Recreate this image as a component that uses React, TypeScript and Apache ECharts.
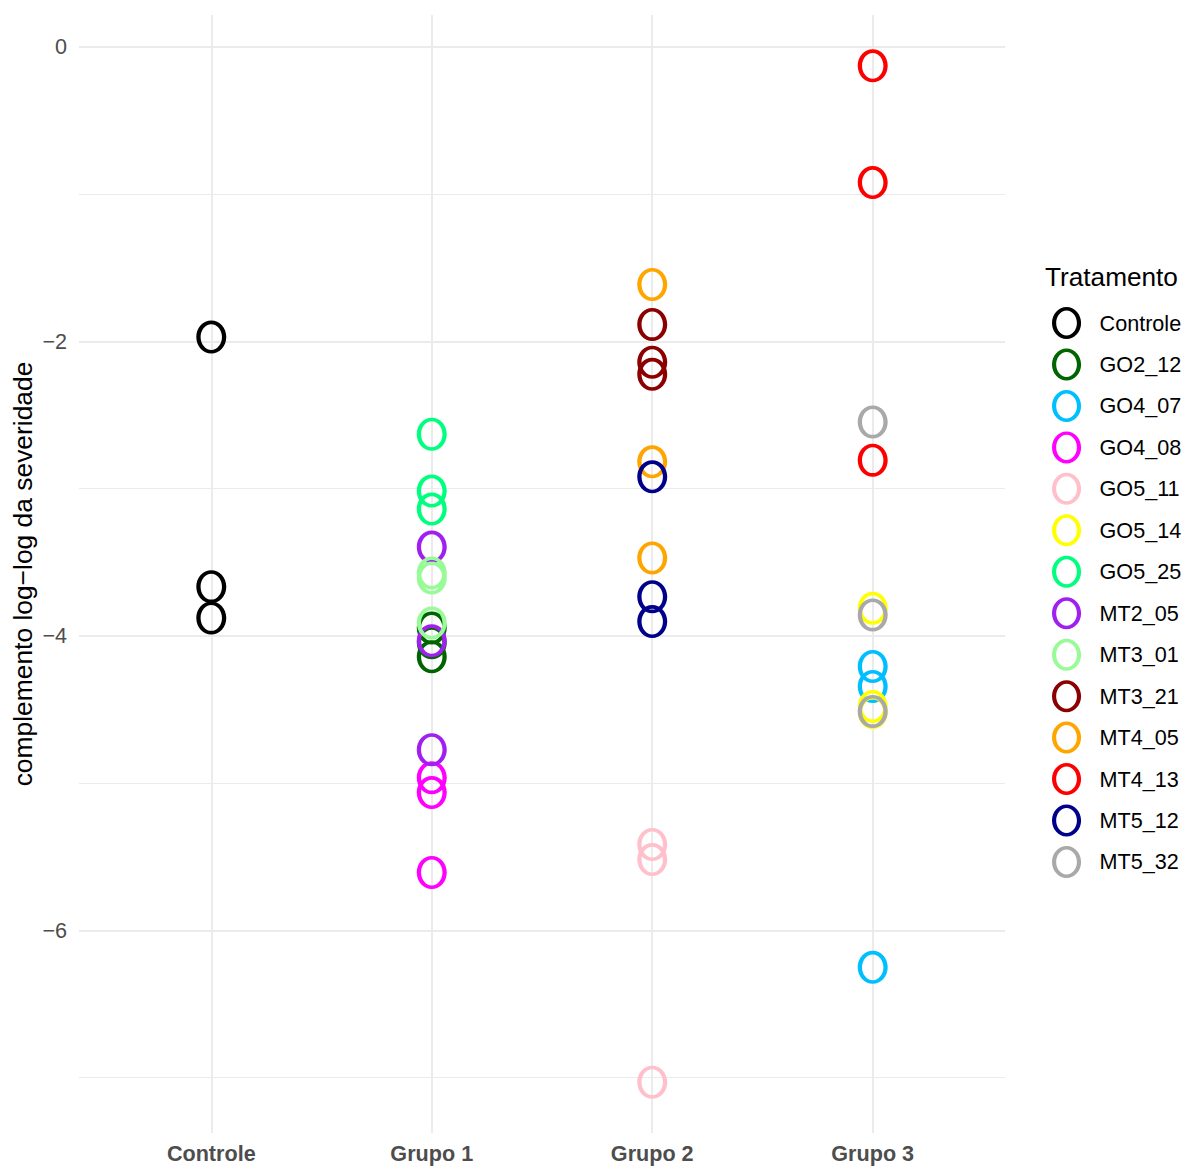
import React, { useEffect, useRef } from "react";
import * as echarts from "echarts";

// ---- Data ----
const categories = ["Controle", "Grupo 1", "Grupo 2", "Grupo 3"];
const treatments = [
  "Controle", "GO2_12", "GO4_07", "GO4_08", "GO5_11", "GO5_14", "GO5_25",
  "MT2_05", "MT3_01", "MT3_21", "MT4_05", "MT4_13", "MT5_12", "MT5_32",
];
const treatmentColors = [
  "#000000", "#006400", "#00BFFF", "#FF00FF", "#FFC0CB", "#FFFF00", "#00FF7F",
  "#A020F0", "#98FB98", "#8B0000", "#FFA500", "#FF0000", "#00008B", "#A9A9A9",
];
// index into categories for each treatment
const treatmentGroup = [0, 1, 3, 1, 2, 3, 1, 1, 1, 2, 2, 3, 2, 3];
// complemento log-log da severidade (3 reps per treatment)
const controleValues = [-1.971, -3.666, -3.878];
const go2_12Values = [-3.946, -4.047, -4.142];
const go4_07Values = [-4.208, -4.344, -6.251];
const go4_08Values = [-4.963, -5.064, -5.607];
const go5_11Values = [-5.417, -5.519, -7.031];
const go5_14Values = [-3.812, -4.479, -4.52];
const go5_25Values = [-2.631, -3.017, -3.139];
const mt2_05Values = [-3.397, -4.034, -4.773];
const mt3_01Values = [-3.573, -3.607, -3.912];
const mt3_21Values = [-1.885, -2.142, -2.224];
const mt4_05Values = [-1.614, -2.818, -3.471];
const mt4_13Values = [-0.129, -0.922, -2.807];
const mt5_12Values = [-2.92, -3.734, -3.903];
const mt5_32Values = [-2.547, -3.858, -4.513];
const treatmentValues = [
  controleValues, go2_12Values, go4_07Values, go4_08Values, go5_11Values,
  go5_14Values, go5_25Values, mt2_05Values, mt3_01Values, mt3_21Values,
  mt4_05Values, mt4_13Values, mt5_12Values, mt5_32Values,
];
const yLabelValues = [-6, -4, -2, 0];
const yMajorGrid = [-6, -4, -2, 0];
const yMinorGrid = [-7, -5, -3, -1];
const yMin = -7.376;
const yMax = 0.216;

// ---- Marker shape: letter-"O"-like ring ----
const K = 0.5523;
function ellipse(cx: number, cy: number, rx: number, ry: number, rev: boolean) {
  const f = (n: number) => n.toFixed(3);
  if (!rev) {
    return `M${f(cx)} ${f(cy - ry)}` +
      `C${f(cx + rx * K)} ${f(cy - ry)} ${f(cx + rx)} ${f(cy - ry * K)} ${f(cx + rx)} ${f(cy)}` +
      `C${f(cx + rx)} ${f(cy + ry * K)} ${f(cx + rx * K)} ${f(cy + ry)} ${f(cx)} ${f(cy + ry)}` +
      `C${f(cx - rx * K)} ${f(cy + ry)} ${f(cx - rx)} ${f(cy + ry * K)} ${f(cx - rx)} ${f(cy)}` +
      `C${f(cx - rx)} ${f(cy - ry * K)} ${f(cx - rx * K)} ${f(cy - ry)} ${f(cx)} ${f(cy - ry)}Z`;
  }
  return `M${f(cx)} ${f(cy - ry)}` +
    `C${f(cx - rx * K)} ${f(cy - ry)} ${f(cx - rx)} ${f(cy - ry * K)} ${f(cx - rx)} ${f(cy)}` +
    `C${f(cx - rx)} ${f(cy + ry * K)} ${f(cx - rx * K)} ${f(cy + ry)} ${f(cx)} ${f(cy + ry)}` +
    `C${f(cx + rx * K)} ${f(cy + ry)} ${f(cx + rx)} ${f(cy + ry * K)} ${f(cx + rx)} ${f(cy)}` +
    `C${f(cx + rx)} ${f(cy - ry * K)} ${f(cx + rx * K)} ${f(cy - ry)} ${f(cx)} ${f(cy - ry)}Z`;
}
const ringPath = "path://" + ellipse(15, 16.5, 15, 16.5, false) + ellipse(15, 16.5, 10.7, 12.9, true);

const FONT = "Liberation Sans, Arial, Helvetica, sans-serif";

export default function App() {
  const ref = useRef<HTMLDivElement>(null);
  useEffect(() => {
    if (!ref.current) return;
    const chart = echarts.init(ref.current, undefined, { renderer: "svg" });

    const gridSeries: any = {
      name: "__grid",
      type: "scatter",
      data: [],
      z: 1,
      silent: true,
      markLine: {
        silent: true,
        z: 1,
        symbol: ["none", "none"],
        label: { show: false },
        emphasis: { disabled: true },
        animation: false,
        data: [
          ...yMinorGrid.map((v) => ({ yAxis: v, lineStyle: { color: "#ebebeb", width: 1, type: "solid" } })),
          ...yMajorGrid.map((v) => ({ yAxis: v, lineStyle: { color: "#ebebeb", width: 2, type: "solid" } })),
          ...categories.map((_, i) => ({ xAxis: i, lineStyle: { color: "#ebebeb", width: 2, type: "solid" } })),
        ],
      },
    };

    const dataSeries = treatments.map((t, i) => ({
      name: t,
      type: "scatter",
      z: 10,
      symbol: ringPath,
      symbolSize: [30, 33],
      itemStyle: { color: treatmentColors[i], opacity: 1 },
      emphasis: { disabled: true },
      data: treatmentValues[i].map((v) => [treatmentGroup[i], v]),
    }));

    chart.setOption({
      animation: false,
      backgroundColor: "#ffffff",
      grid: { left: 79, right: 185, top: 15, bottom: 35, containLabel: false },
      xAxis: {
        type: "value",
        min: -0.6,
        max: 3.6,
        axisLine: { show: false },
        axisTick: { show: false },
        splitLine: { show: false },
        axisLabel: {
          customValues: categories.map((_, i) => i),
          formatter: (v: number) => categories[Math.round(v)] ?? "",
          color: "#4d4d4d",
          fontWeight: "bold",
          fontSize: 21.6,
          fontFamily: FONT,
          margin: 9,
        },
      },
      yAxis: {
        type: "value",
        min: yMin,
        max: yMax,
        axisLine: { show: false },
        axisTick: { show: false },
        splitLine: { show: false },
        axisLabel: {
          customValues: yLabelValues,
          formatter: (v: number) => (v < 0 ? "\u2212" + Math.abs(v) : String(v)),
          color: "#4d4d4d",
          fontSize: 21.6,
          fontFamily: FONT,
          margin: 12,
        },
      },
      legend: {
        data: treatments,
        orient: "vertical",
        left: 1052,
        top: 307,
        padding: 0,
        itemWidth: 56,
        itemHeight: 32,
        itemGap: 9.46,
        symbolKeepAspect: true,
        selectedMode: false,
        textStyle: { color: "#000000", fontSize: 21.6, fontFamily: FONT },
      },
      graphic: [
        {
          type: "text",
          left: 1045,
          top: 264,
          style: { text: "Tratamento", fill: "#000000", fontSize: 26.2, fontFamily: FONT },
        },
        {
          type: "text",
          x: 23,
          y: 574,
          rotation: Math.PI / 2,
          style: {
            text: "complemento log\u2212log da severidade",
            fill: "#000000",
            fontSize: 26.4,
            fontFamily: FONT,
            align: "center",
            verticalAlign: "middle",
          },
        },
      ],
      series: [gridSeries, ...dataSeries],
    });
    return () => chart.dispose();
  }, []);
  return (
    <div
      ref={ref}
      style={{ position: "fixed", left: 0, top: 0, width: 1190, height: 1168, background: "#fff" }}
    />
  );
}
